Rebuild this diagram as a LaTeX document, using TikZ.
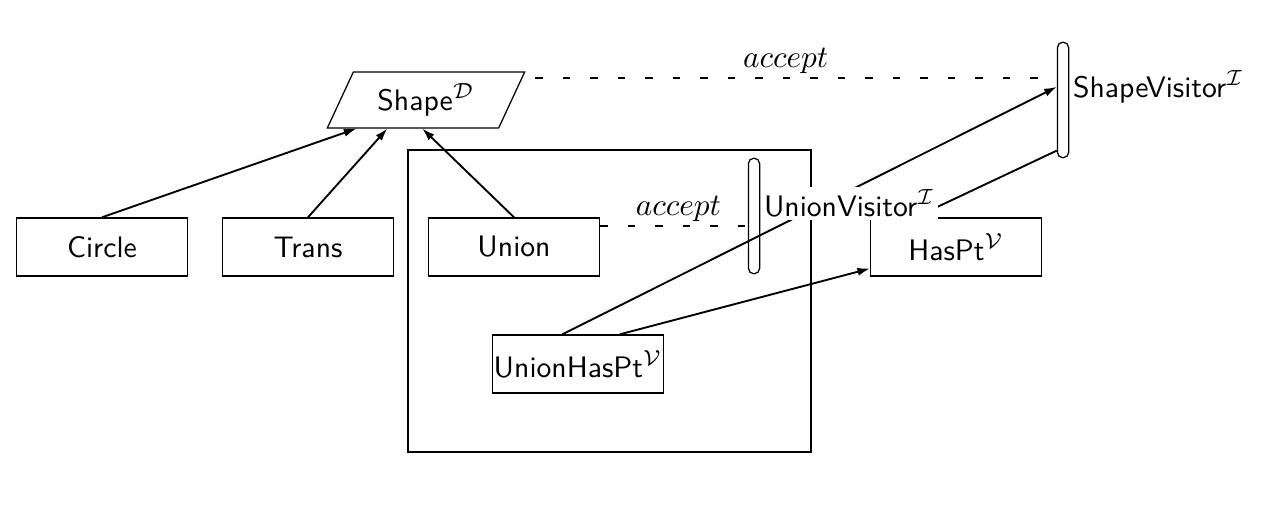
\documentclass[tikz,border=0pt]{standalone}
\usepackage{tikz}
\usetikzlibrary{shapes.geometric, arrows.meta, calc}
\tikzset{
  classbox/.style={rectangle, draw, minimum width=54.7pt, minimum height=18.6pt,
                   inner sep=0pt, font=\fontsize{9.5}{11}\sffamily},
  datatype/.style={trapezium, draw, trapezium left angle=62, trapezium right angle=118,
                   trapezium stretches=true, minimum width=63.4pt, minimum height=17.9pt,
                   inner sep=0pt, font=\fontsize{9.5}{11}\sffamily},
  visitorbar/.style={rectangle, draw, rounded corners=1.75pt, minimum width=3.6pt,
                     minimum height=37pt, inner sep=0pt},
  vlabel/.style={font=\fontsize{9.5}{11}\sffamily, fill=white, inner sep=1pt, anchor=west},
  arrow/.style={-{Latex[length=4pt,width=2.6pt]}, semithick},
  plainline/.style={semithick},
  acceptline/.style={semithick, dash pattern=on 2.4pt off 6.4pt},
  acclabel/.style={above, inner sep=1.2pt}
}

\begin{document}
\begin{tikzpicture}[x=0.32pt, y=-0.32pt]
  \useasboundingbox (0,0) rectangle (1268,526);

  % Union package region
  \node[draw, minimum width=129pt, minimum height=96.6pt, inner sep=0pt] (unionPkg) at (609.5,301) {};

  % Data type and its variants
  \node[datatype] (shape) at (426,100) {Shape$^{\mathcal{D}}$};
  \node[classbox] (circle) at (102,247) {Circle};
  \node[classbox] (trans)  at (308,247) {Trans};
  \node[classbox] (union)  at (514,247) {Union};

  % Visitors
  \node[visitorbar] (shapeVis) at (1063,100) {};
  \node[visitorbar] (unionVis) at (754,216)  {};
  \node[classbox] (hasPt)      at (956,247) {HasPt$^{\mathcal{V}}$};
  \node[classbox] (unionHasPt) at (578,364) {UnionHasPt$^{\mathcal{V}}$};

  % Variants -> Shape
  \draw[arrow] (circle.north) -- ([xshift=9.6pt]shape.bottom left corner);
  \draw[arrow] (trans.north)  -- ([xshift=19.5pt]shape.bottom left corner);
  \draw[arrow] (union.north)  -- ([xshift=30.7pt]shape.bottom left corner);

  % accept links
  \coordinate (accShape) at ([xshift=7.4pt,yshift=7pt]shape.east);
  \draw[acceptline] (accShape) -- node[acclabel, pos=0.48]{$accept$} (accShape -| shapeVis.west);
  \coordinate (accUnion) at ([yshift=6.7pt]union.east);
  \draw[acceptline] (accUnion) -- node[acclabel, pos=0.53]{$accept$} (accUnion -| unionVis.west);

  % Visitor implementations
  \draw[arrow] ([xshift=-5pt]unionHasPt.north) -- ([yshift=4.2pt]shapeVis.west);
  \draw[arrow] ([xshift=13.4pt]unionHasPt.north) -- ([yshift=2.6pt]hasPt.south west);
  \draw[plainline] ([xshift=-13pt]hasPt.north) -- ([yshift=2.5pt]shapeVis.south west);

  % Visitor labels
  \node[vlabel] (shapeVisLbl) at ([yshift=4.2pt]shapeVis.east) {ShapeVisitor$^{\mathcal{I}}$};
  \node[vlabel] (unionVisLbl) at ([yshift=4pt]unionVis.east) {UnionVisitor$^{\mathcal{I}}$};
\end{tikzpicture}
\end{document}
